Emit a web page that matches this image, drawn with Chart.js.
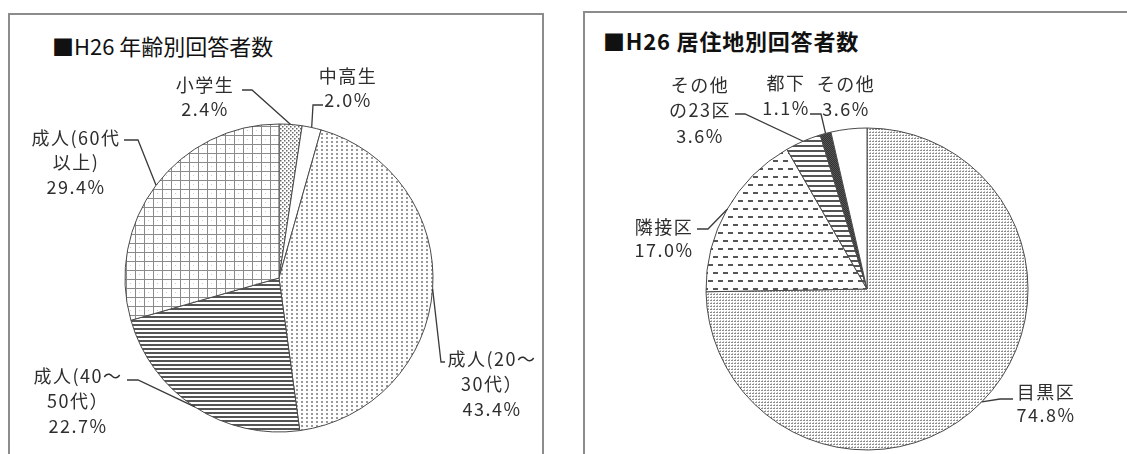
<!DOCTYPE html>
<html><head><meta charset="utf-8">
<script src="https://cdn.jsdelivr.net/npm/chart.js@4/dist/chart.umd.min.js"></script>
<style>
body{margin:0;width:1127px;height:454px;overflow:hidden;background:#fff;font-family:"Noto Sans CJK JP",sans-serif;}
.panel{position:absolute;border:2px solid #8c8c8c;box-sizing:border-box;}
#p1{left:8px;top:13px;width:536px;height:470px;}
#p2{left:583px;top:11px;width:570px;height:470px;}
.title{position:absolute;font-size:22px;line-height:30px;color:#111;white-space:nowrap;}
#t1{left:52px;top:30px;font-weight:normal;letter-spacing:0px;}
#t2{left:603px;top:25px;font-weight:bold;letter-spacing:0.8px;}
canvas{position:absolute;top:0;}
#c1{left:0;}
#c2{left:563px;}
</style></head>
<body>
<div class="panel" id="p1"></div>
<div class="panel" id="p2"></div>
<div class="title" id="t1">■H26 年齢別回答者数</div>
<div class="title" id="t2">■H26 居住地別回答者数</div>
<canvas id="c1" width="563" height="454"></canvas>
<canvas id="c2" width="564" height="454"></canvas>
<script>
// ---- data ----
const ageCategories = ['小学生', '中高生', '成人(20～\n30代）', '成人(40～\n50代）', '成人(60代\n以上)'];
const ageValues = [2.4, 2.0, 43.4, 22.7, 29.4];
const areaCategories = ['目黒区', '隣接区', 'その他\nの23区', '都下', 'その他'];
const areaValues = [74.8, 17.0, 3.6, 1.1, 3.6];

// ---- patterns ----
function tile(w, h, draw) {
  const c = document.createElement('canvas');
  c.width = w; c.height = h;
  const g = c.getContext('2d');
  g.fillStyle = '#fff'; g.fillRect(0, 0, w, h);
  draw(g);
  return g.createPattern(c, 'repeat');
}
const pDenseDots = tile(4, 4, g => { g.fillStyle = '#666'; g.fillRect(0, 0, 1.5, 1.5); g.fillRect(2, 2, 1.5, 1.5); });
const pSparseDots = tile(5, 4, g => { g.fillStyle = '#999'; g.fillRect(1, 1, 2, 2); });
const pStripes = tile(4, 4, g => { g.fillStyle = '#555'; g.fillRect(0, 0, 4, 2); });
const pGrid = tile(9, 9, g => { g.fillStyle = '#8a8a8a'; g.fillRect(0, 0, 1, 9); g.fillRect(0, 0, 9, 1); g.fillStyle='#ccc'; g.fillRect(4,4,1,1); });
const pFineDots = tile(3, 3, g => { g.fillStyle = '#8c8c8c'; g.fillRect(0, 0, 2, 1); g.fillStyle='#bdbdbd'; g.fillRect(1, 2, 1, 1); });
const pDashes = tile(10, 16, g => { g.fillStyle = '#555'; g.fillRect(0, 0, 5, 2); g.fillRect(5, 8, 5, 2); });
const pWideStripes = tile(4, 5, g => { g.fillStyle = '#555'; g.fillRect(0, 0, 4, 2); });
const pDark = tile(2, 2, g => { g.fillStyle = '#555'; g.fillRect(0, 0, 2, 2); g.fillStyle = '#333'; g.fillRect(0, 0, 1, 1); g.fillRect(1, 1, 1, 1); });

// ---- callout plugin ----
const callouts = {
  id: 'callouts',
  afterDatasetsDraw(chart, args, opts) {
    const ctx = chart.ctx;
    const meta = chart.getDatasetMeta(0);
    const cats = chart.data.labels;
    const vals = chart.data.datasets[0].data;
    ctx.save();
    ctx.font = '18px "Noto Sans CJK JP"';
    if ('letterSpacing' in ctx) ctx.letterSpacing = '1.5px';
    ctx.textAlign = 'center';
    ctx.textBaseline = 'middle';
    ctx.fillStyle = '#2e2e2e';
    ctx.strokeStyle = '#3a3a3a';
    ctx.lineWidth = 1.3;
    meta.data.forEach((arc, i) => {
      const s = opts.items[i];
      if (!s) return;
      const p = arc.getProps(['x', 'y', 'startAngle', 'endAngle', 'outerRadius'], true);
      const mid = (p.startAngle + p.endAngle) / 2;
      const ax = p.x + Math.cos(mid) * p.outerRadius;
      const ay = p.y + Math.sin(mid) * p.outerRadius;
      if (s.leader) {
        ctx.beginPath();
        ctx.moveTo(p.x + s.leader[0][0], p.y + s.leader[0][1]);
        for (let k = 1; k < s.leader.length; k++) ctx.lineTo(p.x + s.leader[k][0], p.y + s.leader[k][1]);
        ctx.lineTo(ax, ay);
        ctx.stroke();
      }
      const lines = cats[i].split('\n').concat([vals[i].toFixed(1) + '%']);
      lines.forEach((t, k) => ctx.fillText(t, p.x + s.dx, p.y + s.dy + k * s.lh));
    });
    ctx.restore();
  }
};

function makePie(id, cats, vals, colors, padding, radius, items) {
  new Chart(document.getElementById(id), {
    type: 'pie',
    data: {
      labels: cats,
      datasets: [{ data: vals, backgroundColor: colors, borderColor: '#4a4a4a', borderWidth: 1 }]
    },
    options: {
      responsive: false,
      animation: false,
      radius: radius,
      layout: { padding: padding },
      plugins: { legend: { display: false }, tooltip: { enabled: false }, callouts: { items: items } }
    },
    plugins: [callouts]
  });
}

makePie('c1', ageCategories, ageValues,
  [pDenseDots, '#ffffff', pSparseDots, pStripes, pGrid],
  { left: 124, right: 129, top: 123, bottom: 21 }, 154,
  [
    { dx: -74, dy: -193, lh: 24, leader: [[-37, -188], [-27, -188]] },
    { dx: 69, dy: -202, lh: 24, leader: [[44, -173], [34, -173]] },
    { dx: 213, dy: 81, lh: 25, leader: [[166, 84], [162, 84]] },
    { dx: -201, dy: 98, lh: 25, leader: [[-152, 102], [-141, 102]] },
    { dx: -203, dy: -140, lh: 24.5, leader: [[-155, -138], [-141, -138]] }
  ]);

makePie('c2', areaCategories, areaValues,
  [pFineDots, pDashes, pWideStripes, pDark, '#ffffff'],
  { left: 142, right: 98, top: 127, bottom: 3 }, 161,
  [
    { dx: 179, dy: 103, lh: 23, leader: [[146, 110], [133, 110]] },
    { dx: -203, dy: -62, lh: 23, leader: [[-170, -60], [-159, -60]] },
    { dx: -167, dy: -204, lh: 25.5, leader: [[-132, -175], [-122, -175]] },
    { dx: -81, dy: -206, lh: 25, leader: [[-57, -175], [-46, -175]] },
    { dx: -21, dy: -205, lh: 25 }
  ]);
</script>
</body></html>
